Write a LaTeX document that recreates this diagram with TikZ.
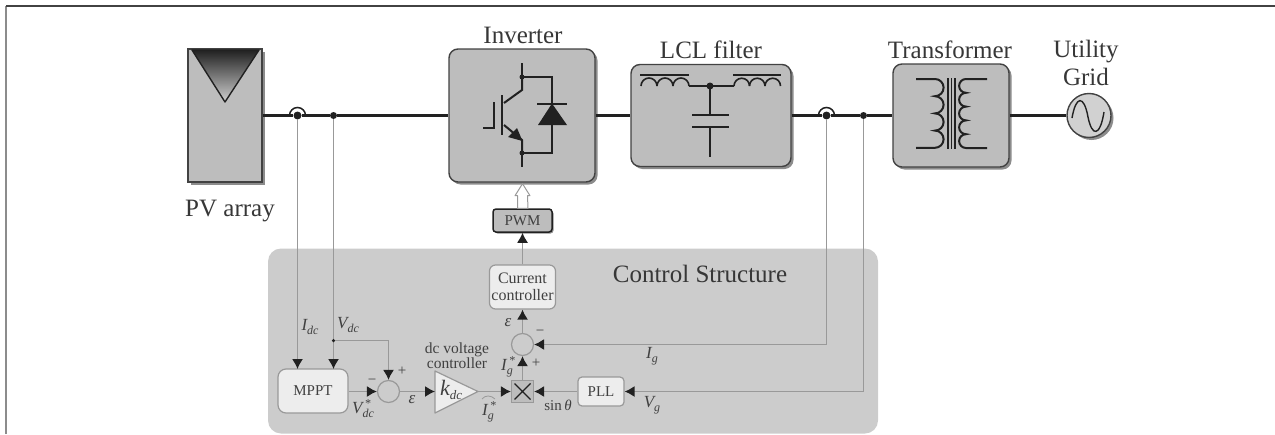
\documentclass[tikz,border=0pt]{standalone}
\usepackage{fontspec}
\setmainfont{Liberation Serif}
\usetikzlibrary{arrows.meta,shadows,calc}
\definecolor{boxg}{gray}{0.74}
\definecolor{ctrlg}{gray}{0.80}
\definecolor{lightb}{gray}{0.93}
\definecolor{sig}{gray}{0.60}
\definecolor{ink}{gray}{0.13}
\definecolor{txt}{gray}{0.25}
\newcommand{\sbx}[3]{#1\rlap{\raisebox{6pt}{\fontsize{12}{12}\selectfont\,#2}}\raisebox{-4pt}{\fontsize{12}{12}\selectfont #3}}
\tikzset{
 x=1pt,y=-1pt,
 pow/.style={line width=2.1pt,draw=ink},
 sym/.style={line width=2pt,draw=ink},
 coil/.style={line width=1.6pt,draw=ink},
 sigl/.style={line width=1.3pt,draw=sig},
 sigarr/.style={sigl,-{Latex[length=10pt,width=11pt,color=ink]}},
 pbox/.style={draw=ink!85,line width=1.4pt,fill=boxg,rounded corners=9pt,inner sep=0pt,
   drop shadow={shadow xshift=2.5pt,shadow yshift=-2.5pt,opacity=.45,fill=black}},
 cbox/.style={draw=sig,line width=1.2pt,fill=lightb,rounded corners=6pt,inner sep=0pt,align=center,text=txt},
 sumj/.style={circle,draw=sig,line width=1.2pt,fill=ctrlg,minimum size=22pt,inner sep=0pt},
 dot/.style={circle,fill=ink,inner sep=0pt,minimum size=8pt},
 title/.style={font=\fontsize{25}{26}\selectfont,text=ink!90!white,inner sep=0pt},
 lab/.style={font=\fontsize{17}{18}\selectfont\itshape,text=txt,inner sep=0pt},
 sml/.style={font=\fontsize{15}{16}\selectfont,text=txt,inner sep=0pt},
}
\begin{document}
\begin{tikzpicture}
\useasboundingbox (0,0) rectangle (1275,434);
% frame
\coordinate (fa) at (6,434); \coordinate (fb) at (6,6); \coordinate (fc) at (1275,6);
\draw[line width=1.8pt,draw=gray!90] (fa)--(fb);
\draw[line width=1.5pt,draw=ink!85] (fb)--(fc);
% control area
\node[draw=none,fill=ctrlg,rounded corners=13pt,minimum width=610pt,minimum height=185pt,inner sep=0pt] (ctrl) at (573,341) {};
% power boxes
\node[draw=ink!85,line width=1.4pt,fill=boxg,minimum width=74pt,minimum height=133pt,inner sep=0pt,
   drop shadow={shadow xshift=2.5pt,shadow yshift=-2.5pt,opacity=.45,fill=black}] (pv) at (225,115.5) {};
\node[pbox,minimum width=146pt,minimum height=133pt] (inv) at (522,115.5) {};
\node[pbox,minimum width=160pt,minimum height=102pt] (lcl) at (711,115.5) {};
\node[pbox,minimum width=116pt,minimum height=103pt] (tr) at (951,115.5) {};
\node[circle,draw=ink!85,line width=1.4pt,fill=boxg!70!white,minimum size=44pt,inner sep=0pt,
   drop shadow={shadow xshift=2.5pt,shadow yshift=-2.5pt,opacity=.45,fill=black}] (grid) at (1089,115.5) {};
% PV triangle
\coordinate (pa) at (192,50); \coordinate (pb) at (259,50); \coordinate (pc) at (225,102);
\shade[top color=ink,bottom color=boxg!70!white,draw=ink,line width=1.4pt,line join=round] (pa)--(pb)--(pc)--cycle;
% titles
\node[title] (tinv) at (523,35) {Inverter};
\node[title] (tlcl) at (711,50) {LCL filter};
\node[title] (ttr) at (950,50) {Transformer};
\node[title] (tu) at (1086,52) {Utility};
\node[title] (tg) at (1086,77) {Grid};
\node[title] (tpv) at (230,211) {PV array};
\node[title] (tc) at (700,274) {Control Structure};
% power line junctions
\node[dot] (j1) at (297.5,115.5) {};
\node[dot,minimum size=7pt] (j2) at (333.5,115.5) {};
\node[dot] (j3) at (826.5,115.5) {};
\node[dot,minimum size=7pt] (j4) at (863.5,115.5) {};
\draw[pow] (pv.east)--(j1)--(j2)--(inv.west);
\draw[pow] (inv.east)--(lcl.west);
\draw[pow] (lcl.east)--(j3)--(j4)--(tr.west);
\draw[pow] (tr.east)--(grid.west);
\draw[line width=1.5pt,draw=ink] (289.5,115.5) arc[start angle=180,end angle=360,radius=8];
\draw[line width=1.5pt,draw=ink] (818.5,115.5) arc[start angle=180,end angle=360,radius=8];
% IGBT
\begin{scope}
\draw[sym,line join=miter] (522,63)--(522,77)--(552,77)--(552,153)--(522,153);
\draw[sym] (522,77)--(522,90)--(504,103);
\draw[sym] (522,153)--(522,167);
\draw[sym] (522,153)--(522,140)--(504,125);
\draw[line width=2.6pt,draw=ink] (502,95)--(502,135);
\draw[sym] (494,102)--(494,128)--(483,128);
\draw[sym] (537,103.5)--(567,103.5);
\fill[ink] (538,125)--(567,125)--(552,103.5)--cycle;
\fill[ink] (522.5,141)--(517,128)--(508,137)--cycle;
\fill[ink] (522,77) circle (2.5);
\fill[ink] (522,153) circle (2.5);
\end{scope}
% LCL
\coordinate (ljn) at (710,86);
\draw[coil] (640,75)--(689,75);
\draw[coil] (733,75)--(781,75);
\foreach \i in {0,1,2}{\draw[coil] ({641+\i*16},86) arc[start angle=180,end angle=360,radius=8];
  \draw[coil] ({734+\i*15.5},86) arc[start angle=180,end angle=360,radius=7.75];}
\draw[sym] (689,86)--(734,86);
\fill[ink] (ljn) circle (3.5);
\draw[sym] (ljn)--(710,115) (692,115)--(729,115) (692,127)--(729,127) (710,127)--(710,157);
% transformer
\draw[sym] (916,79)--(935,79) arc[start angle=-90,end angle=90,radius=8.6] arc[start angle=-90,end angle=90,radius=8.6] arc[start angle=-90,end angle=90,radius=8.6] arc[start angle=-90,end angle=90,radius=8.6]--(916,148);
\draw[sym] (987,79)--(966,79) arc[start angle=-90,end angle=-270,radius=6.9] arc[start angle=-90,end angle=-270,radius=6.9] arc[start angle=-90,end angle=-270,radius=6.9] arc[start angle=-90,end angle=-270,radius=6.9] arc[start angle=-90,end angle=-270,radius=6.9]--(987,148);
\draw[coil] (948,78)--(948,149) (951.5,78)--(951.5,149) (955,78)--(955,149);
% sine
\draw[line width=1.4pt,draw=ink] (1072,118) .. controls (1076,95) and (1084,95) .. (1088,117) .. controls (1092,137) and (1100,137) .. (1104,112);
% PWM
\node[draw=ink,line width=1.5pt,fill=boxg,rounded corners=3pt,minimum width=59pt,minimum height=23pt,inner sep=0pt,text=txt,font=\fontsize{15}{16}\selectfont,
  drop shadow={shadow xshift=1.5pt,shadow yshift=-1.5pt,opacity=.45,fill=black}] (pwm) at (522.5,220.5) {PWM};
\draw[line width=1pt,draw=sig,fill=white,line join=round] ($(inv.south)+(0.5,1)$)--++(7.5,12)--++(-2.5,0)--($(pwm.north)+(5.5,0)$)--($(pwm.north)+(-5,0)$)--($(inv.south)+(-4.5,13)$)--++(-2.5,0)--cycle;
% control blocks
\node[cbox,minimum width=66pt,minimum height=44pt,font=\fontsize{16}{16.5}\selectfont] (cc) at (522.5,287) {Current\\controller};
\node[cbox,rounded corners=8pt,minimum width=70pt,minimum height=44pt,font=\fontsize{15}{16}\selectfont] (mppt) at (313,391) {MPPT};
\node[cbox,rounded corners=4pt,minimum width=46pt,minimum height=29pt,font=\fontsize{15}{16}\selectfont] (pll) at (601,391.5) {PLL};
\node[sumj] (s1) at (388.5,391.5) {};
\node[sumj] (s2) at (522.5,344.5) {};
\node[draw=sig,line width=1.2pt,fill=boxg,minimum size=22pt,inner sep=0pt] (mul) at (522.5,391.5) {};
\draw[line width=1.3pt,draw=ink] (mul.center)+(-8,-8)--+(8,8) (mul.center)+(-8,8)--+(8,-8);
\coordinate (ka) at (435,371); \coordinate (kb) at (435,413); \coordinate (kc) at (478,391.5);
\path[draw=sig,line width=1.2pt,fill=lightb,line join=round] (ka)--(kb)--(kc)--cycle;
\node[lab,font=\fontsize{22}{23}\selectfont\itshape] (kk) at (445,388) {k};
\node[lab,font=\fontsize{13}{14}\selectfont\itshape] (kd) at (456,395) {dc};
% measurement connections
\coordinate (mi) at (297.5,369);
\coordinate (mv) at (333.5,369);
\draw[sigarr] (j1)--(mi);
\draw[sigarr] (j2)--(mv);
\node[dot,minimum size=3.5pt] (tap) at (333.5,340.5) {};
\coordinate (tapc) at (388.5,340.5);
\draw[sigarr] (tap)--(tapc)--(s1.north);
\draw[sigarr] (mppt.east |- s1.west)--(s1.west);
\draw[sigarr] (s1.east)--(ka|-s1.east);
\draw[sigarr] (kc)--(mul.west);
\draw[sigarr] (pll.west)--(mul.east);
\draw[sigarr] (mul.north)--(s2.south);
\draw[sigarr] (s2.north)--(cc.south);
\draw[sigarr] (cc.north)--(cc.north |- pwm.south);
\coordinate (igc) at (826.5,344.5);
\draw[sigarr] (j3)--(igc)--(s2.east);
\coordinate (vgc) at (863.5,391.5);
\draw[sigarr] (j4)--(vgc)--(pll.east);
% labels
\node[lab] (lidc) at (310,327) {\sbx{I}{}{dc}};
\node[lab] (lvdc) at (348,325) {\sbx{V}{}{dc}};
\node[lab] (lvs) at (363,409) {\sbx{V}{*}{dc}};
\node[lab] (le1) at (412,400) {ε};
\node[lab] (le2) at (508,323) {ε};
\node[sml] (lm1) at (372,382) {\textminus};
\node[sml] (lp1) at (402,371) {+};
\node[sml] (lm2) at (540,333) {\textminus};
\node[sml] (lp2) at (536,363) {+};
\node[sml,align=center,font=\fontsize{15.5}{15}\selectfont] (ldc) at (457,356) {dc voltage\\controller};
\node[lab] (lig) at (488,412) {\sbx{I}{*}{g}};
\draw[line width=.8pt,draw=sig] (482,399) .. controls (485,395) and (491,395) .. (495,399);
\node[lab] (lig2) at (507,367) {\sbx{I}{*}{g}};
\node[sml] (lsin) at (558,405) {sin\,\textit{θ}};
\node[lab] (lIg) at (652,356) {\sbx{I}{}{g}};
\node[lab] (lVg) at (652,405) {\sbx{V}{}{g}};
\end{tikzpicture}
\end{document}
